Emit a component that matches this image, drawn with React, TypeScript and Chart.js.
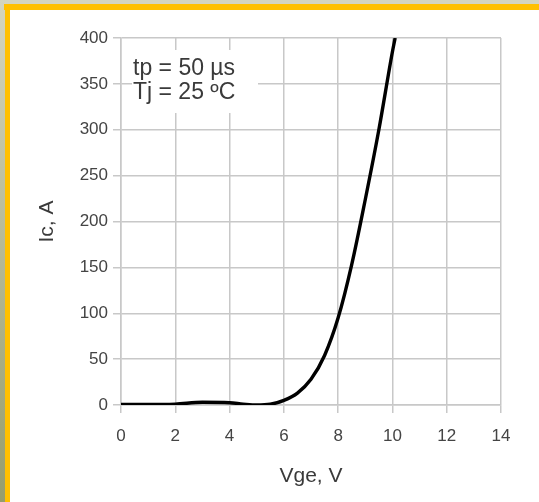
import React, { useEffect, useRef } from "react";
import { Chart, registerables } from "chart.js";

Chart.register(...registerables);

const vge = [0, 1, 2, 3, 4, 4.5, 5, 5.5, 6, 6.5, 7, 7.5, 8, 8.5, 9, 9.5, 10, 10.1];
const ic = [0.5, 0.5, 1, 3, 2.5, 1, 0, 0.8, 5, 13, 28, 54, 95, 153, 224, 300, 385, 400];
const xTitle = "Vge, V";
const yTitle = "Ic, A";
const noteLines = ["tp = 50 µs", "Tj = 25 ºC"];

const FONT = "'Liberation Sans', Arial, sans-serif";

const framePlugin = {
  id: "frame",
  beforeDraw(chart: any) {
    const { ctx, width, height } = chart;
    ctx.save();
    ctx.fillStyle = "#ffffff";
    ctx.fillRect(0, 0, width, height);
    ctx.fillStyle = "#d4d5bf";
    ctx.fillRect(0, 0, width, 4);
    const g = ctx.createLinearGradient(0, 0, 0, height);
    g.addColorStop(0, "#d4d5bf");
    g.addColorStop(1, "#969d6c");
    ctx.fillStyle = g;
    ctx.fillRect(0, 0, 5, height);
    ctx.fillStyle = "#ffc000";
    ctx.fillRect(4, 4, width - 4, 6);
    ctx.fillRect(5, 4, 5, height - 4);
    ctx.restore();
  },
};

const notePlugin = {
  id: "note",
  beforeDatasetsDraw(chart: any) {
    const { ctx, chartArea } = chart;
    ctx.save();
    ctx.fillStyle = "#ffffff";
    ctx.fillRect(chartArea.left + 11, chartArea.top + 12, 126, 63);
    ctx.fillStyle = "#3a3a3a";
    ctx.font = `23px ${FONT}`;
    ctx.textBaseline = "alphabetic";
    ctx.textAlign = "left";
    noteLines.forEach((t, i) => {
      ctx.fillText(t, chartArea.left + 12, chartArea.top + 37 + i * 24);
    });
    ctx.restore();
  },
};

export default function App() {
  const ref = useRef<HTMLCanvasElement | null>(null);
  useEffect(() => {
    if (!ref.current) return;
    const chart = new Chart(ref.current, {
      type: "line",
      data: {
        datasets: [
          {
            data: vge.map((x, i) => ({ x, y: ic[i] })),
            borderColor: "#000000",
            borderWidth: 3.4,
            pointRadius: 0,
            cubicInterpolationMode: "monotone",
            fill: false,
          },
        ],
      },
      options: {
        animation: false,
        responsive: false,
        maintainAspectRatio: false,
        layout: { padding: { top: 38, right: 38, left: 0, bottom: 0 } },
        plugins: { legend: { display: false }, tooltip: { enabled: false } },
        scales: {
          x: {
            type: "linear",
            min: 0,
            max: 14,
            ticks: { stepSize: 2, color: "#444444", font: { family: FONT, size: 17 }, padding: 13 },
            grid: { color: "#c8c8c8", lineWidth: 1.5, tickLength: 8 },
            border: { color: "#c8c8c8", width: 1.5 },
            title: { display: true, text: xTitle, color: "#3a3a3a", font: { family: FONT, size: 21 }, padding: { top: 0, bottom: 13 } },
            afterFit(scale: any) {
              scale.height = 97;
            },
          },
          y: {
            min: 0,
            max: 400,
            ticks: { stepSize: 50, color: "#444444", font: { family: FONT, size: 17 }, padding: 5 },
            grid: { color: "#c8c8c8", lineWidth: 1.5, tickLength: 8 },
            border: { color: "#c8c8c8", width: 1.5 },
            title: { display: true, text: yTitle, color: "#3a3a3a", font: { family: FONT, size: 21 }, padding: { top: 35, bottom: 0 } },
            afterFit(scale: any) {
              scale.width = 121;
            },
          },
        },
      },
      plugins: [framePlugin, notePlugin],
    });
    return () => chart.destroy();
  }, []);
  return (
    <div style={{ position: "fixed", left: 0, top: 0, width: 539, height: 502 }}>
      <canvas ref={ref} width={539} height={502} style={{ display: "block", width: 539, height: 502 }} />
    </div>
  );
}
